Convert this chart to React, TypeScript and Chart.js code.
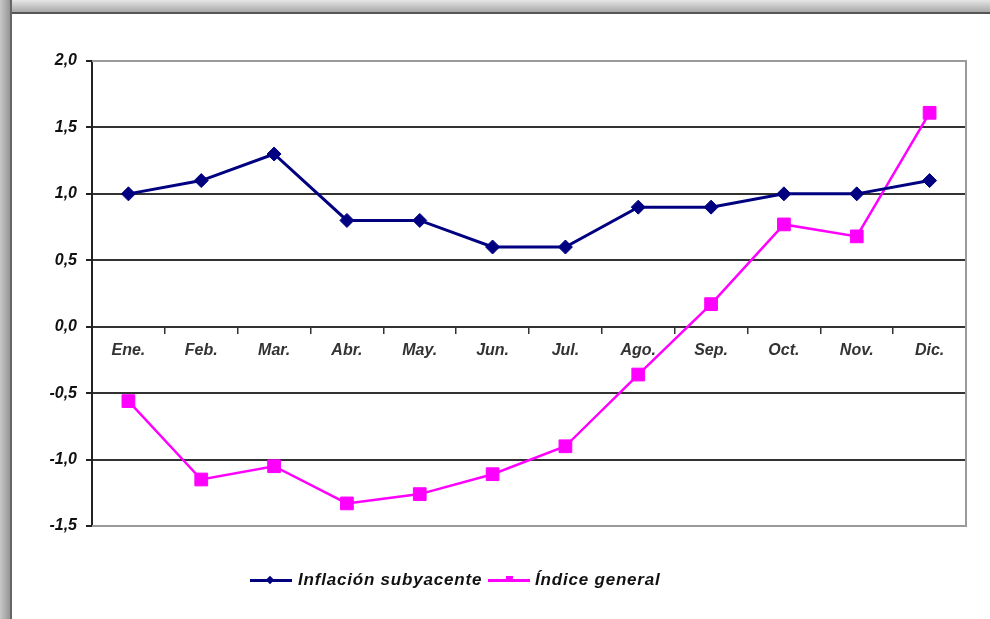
import React, { useEffect, useRef } from "react";
import { Chart, registerables } from "chart.js";

Chart.register(...registerables);

const months = ["Ene.", "Feb.", "Mar.", "Abr.", "May.", "Jun.", "Jul.", "Ago.", "Sep.", "Oct.", "Nov.", "Dic."];
const inflacionSubyacente = [1.0, 1.1, 1.3, 0.8, 0.8, 0.6, 0.6, 0.9, 0.9, 1.0, 1.0, 1.1];
const indiceGeneral = [-0.56, -1.15, -1.05, -1.33, -1.26, -1.11, -0.9, -0.36, 0.17, 0.77, 0.68, 1.61];
const yTicks = [-1.5, -1.0, -0.5, 0.0, 0.5, 1.0, 1.5, 2.0];
const seriesNames = ["Inflación subyacente", "Índice general"];

const NAVY = "#000080";
const MAGENTA = "#FF00FF";
const FONT = "'Liberation Sans', Arial, sans-serif";

const frameBorder = {
  id: "frameBorder",
  beforeDatasetsDraw(chart: any) {
    const { ctx, chartArea } = chart;
    ctx.save();
    ctx.strokeStyle = "#9a9a9a";
    ctx.lineWidth = 2;
    ctx.beginPath();
    ctx.moveTo(chartArea.left, chartArea.top);
    ctx.lineTo(chartArea.right, chartArea.top);
    ctx.lineTo(chartArea.right, chartArea.bottom);
    ctx.lineTo(chartArea.left, chartArea.bottom);
    ctx.stroke();
    ctx.restore();
  },
};

export default function App() {
  const ref = useRef<HTMLCanvasElement>(null);
  useEffect(() => {
    if (!ref.current) return;
    const chart = new Chart(ref.current, {
      type: "line",
      data: {
        labels: months,
        datasets: [
          {
            label: seriesNames[0],
            data: inflacionSubyacente,
            borderColor: NAVY,
            backgroundColor: NAVY,
            borderWidth: 3,
            pointStyle: "rectRot",
            pointRadius: 7,
            pointBorderWidth: 1,
            tension: 0,
          },
          {
            label: seriesNames[1],
            data: indiceGeneral,
            borderColor: MAGENTA,
            backgroundColor: MAGENTA,
            borderWidth: 2.5,
            pointStyle: "rect",
            pointRadius: 9,
            pointBorderWidth: 1,
            tension: 0,
          },
        ],
      },
      options: {
        animation: false,
        responsive: false,
        maintainAspectRatio: false,
        layout: { padding: { left: 0, top: 61, right: 24, bottom: 93 } },
        plugins: { legend: { display: false }, tooltip: { enabled: false } },
        scales: {
          x: {
            position: { y: 0 } as any,
            offset: true,
            grid: {
              display: true,
              drawOnChartArea: false,
              drawTicks: true,
              tickLength: 6,
              offset: true,
              color: "#333",
              lineWidth: 1.5,
            },
            border: { display: true, color: "#333", width: 2 },
            ticks: {
              color: "#333",
              padding: 8,
              maxRotation: 0,
              autoSkip: false,
              font: { family: FONT, size: 16, style: "italic", weight: "bold" },
            },
          },
          y: {
            min: -1.5,
            max: 2.0,
            afterFit(scale: any) {
              scale.width = 92;
            },
            afterBuildTicks(scale: any) {
              scale.ticks = yTicks.map((v) => ({ value: v }));
            },
            grid: {
              color: (c: any) => (c.tick && (c.tick.value === 2 || c.tick.value === -1.5) ? "#9a9a9a" : "#333"),
              lineWidth: 2,
              tickLength: 6,
              tickColor: "#222",
            },
            border: { display: true, color: "#222", width: 2 },
            ticks: {
              color: "#111",
              padding: 9,
              font: { family: FONT, size: 16, style: "italic", weight: "bold" },
              callback: (v: any) => Number(v).toFixed(1).replace(".", ","),
            },
          },
        },
      },
      plugins: [frameBorder],
    });
    return () => chart.destroy();
  }, []);

  const legendText: React.CSSProperties = {
    position: "absolute",
    top: 570,
    font: `italic bold 17px ${FONT}`,
    letterSpacing: "0.8px",
    color: "#111",
    lineHeight: "20px",
    whiteSpace: "nowrap",
  };

  return (
    <div style={{ position: "fixed", left: 0, top: 0, width: 990, height: 619, background: "#fff", overflow: "hidden" }}>
      <canvas ref={ref} width={990} height={619} style={{ position: "absolute", left: 0, top: 0 }} />
      <div style={{ position: "absolute", left: 0, top: 0, width: 990, height: 12, background: "linear-gradient(#e6e6e6, #a8a8a8)", borderBottom: "2px solid #555" }} />
      <div style={{ position: "absolute", left: 0, top: 0, width: 10, height: 619, background: "linear-gradient(to right, #c8c8c8, #959595)", borderRight: "2px solid #666" }} />
      {/* legend */}
      <div style={{ position: "absolute", left: 250, top: 579, width: 42, height: 3, background: NAVY }} />
      <div style={{ position: "absolute", left: 267, top: 577, width: 6, height: 6, background: NAVY, transform: "rotate(45deg)" }} />
      <div style={{ ...legendText, left: 298 }}>{seriesNames[0]}</div>
      <div style={{ position: "absolute", left: 488, top: 579, width: 42, height: 3, background: MAGENTA }} />
      <div style={{ position: "absolute", left: 506, top: 576, width: 7, height: 6, background: MAGENTA }} />
      <div style={{ ...legendText, left: 535 }}>{seriesNames[1]}</div>
    </div>
  );
}
